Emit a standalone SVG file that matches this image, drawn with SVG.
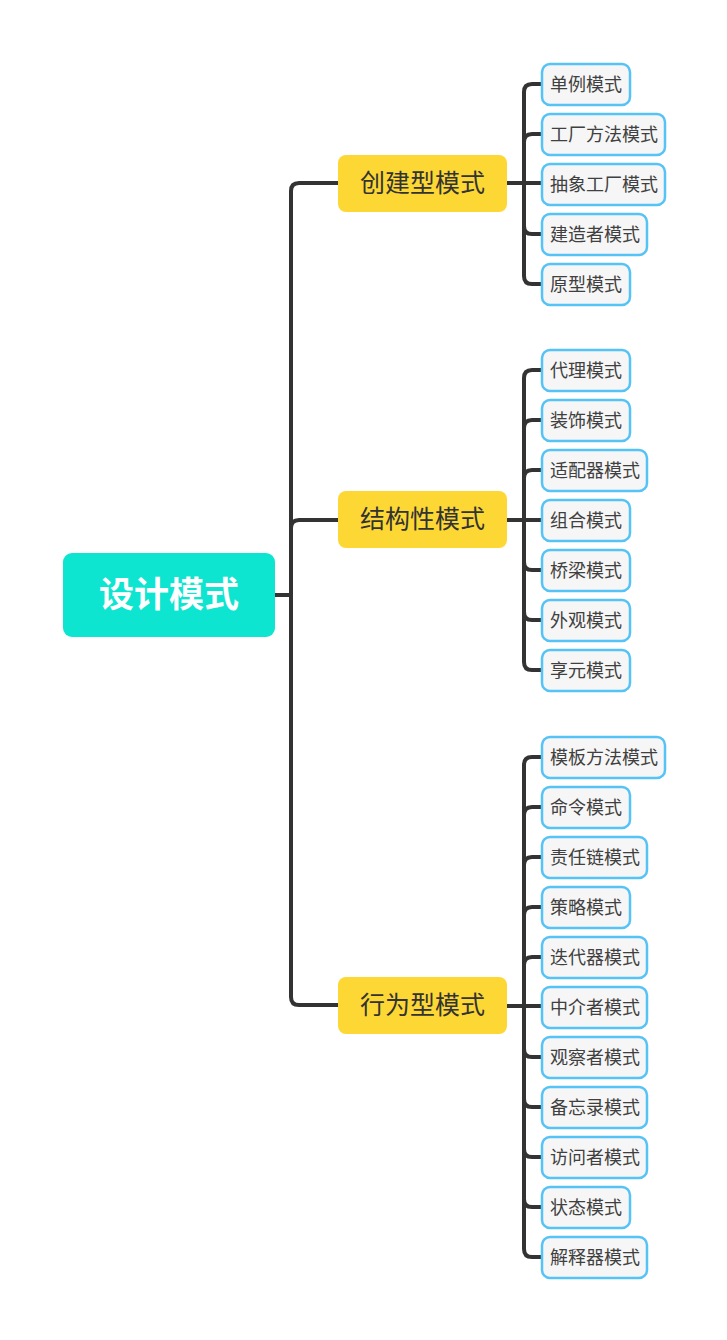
<svg xmlns="http://www.w3.org/2000/svg" width="727" height="1340" viewBox="0 0 727 1340">
<style>
.conn{fill:none;stroke:#333333;stroke-width:4;stroke-linecap:round;stroke-linejoin:round}
.root rect{fill:#0DE5D0}
.root text{fill:#ffffff;font-family:"Noto Sans CJK SC","Noto Sans",sans-serif;font-weight:bold;font-size:35px;text-anchor:middle}
.l1 rect{fill:#FDD835}
.l1 text{fill:#333333;font-family:"Noto Sans CJK SC","Noto Sans",sans-serif;font-size:25px;text-anchor:middle}
.l2 rect{fill:#F6F6F6;stroke:#55C3F5;stroke-width:2.5}
.l2 text{fill:#404040;font-family:"Noto Sans CJK SC","Noto Sans",sans-serif;font-size:18px}
</style>
<rect width="727" height="1340" fill="#ffffff"/>
<g id="connectors">
<path class="conn" d="M275 595 H291 V191 Q291 183 299 183 H338"/>
<path class="conn" d="M275 595 H291 V528 Q291 520 299 520 H338"/>
<path class="conn" d="M275 595 H291 V997 Q291 1005 299 1005 H338"/>
<path class="conn" d="M507 183 H524 V92 Q524 84 532 84 H541"/>
<path class="conn" d="M507 183 H524 V142 Q524 134 532 134 H541"/>
<path class="conn" d="M507 183 H541"/>
<path class="conn" d="M507 183 H524 V226 Q524 234 532 234 H541"/>
<path class="conn" d="M507 183 H524 V276 Q524 284 532 284 H541"/>
<path class="conn" d="M507 520 H524 V378 Q524 370 532 370 H541"/>
<path class="conn" d="M507 520 H524 V428 Q524 420 532 420 H541"/>
<path class="conn" d="M507 520 H524 V478 Q524 470 532 470 H541"/>
<path class="conn" d="M507 520 H541"/>
<path class="conn" d="M507 520 H524 V562 Q524 570 532 570 H541"/>
<path class="conn" d="M507 520 H524 V612 Q524 620 532 620 H541"/>
<path class="conn" d="M507 520 H524 V662 Q524 670 532 670 H541"/>
<path class="conn" d="M507 1006 H524 V765 Q524 757 532 757 H541"/>
<path class="conn" d="M507 1006 H524 V815 Q524 807 532 807 H541"/>
<path class="conn" d="M507 1006 H524 V865 Q524 857 532 857 H541"/>
<path class="conn" d="M507 1006 H524 V915 Q524 907 532 907 H541"/>
<path class="conn" d="M507 1006 H524 V965 Q524 957 532 957 H541"/>
<path class="conn" d="M507 1006 H541"/>
<path class="conn" d="M507 1006 H524 V1049 Q524 1057 532 1057 H541"/>
<path class="conn" d="M507 1006 H524 V1099 Q524 1107 532 1107 H541"/>
<path class="conn" d="M507 1006 H524 V1149 Q524 1157 532 1157 H541"/>
<path class="conn" d="M507 1006 H524 V1199 Q524 1207 532 1207 H541"/>
<path class="conn" d="M507 1006 H524 V1249 Q524 1257 532 1257 H541"/>
</g>
<g id="root" class="root"><rect x="63" y="553" width="212" height="84" rx="9"/><text x="169" y="607">设计模式</text></g>
<g id="creational" class="l1"><rect x="338" y="155" width="169" height="57" rx="8"/><text x="422.5" y="192">创建型模式</text></g>
<g id="structural" class="l1"><rect x="338" y="491" width="169" height="57" rx="8"/><text x="422.5" y="528">结构性模式</text></g>
<g id="behavioral" class="l1"><rect x="338" y="977" width="169" height="57" rx="8"/><text x="422.5" y="1014">行为型模式</text></g>
<g id="c1" class="l2"><rect x="542" y="64" width="88" height="41" rx="8"/><text x="550" y="90.5">单例模式</text></g>
<g id="c2" class="l2"><rect x="542" y="114" width="123" height="41" rx="8"/><text x="550" y="140.5">工厂方法模式</text></g>
<g id="c3" class="l2"><rect x="542" y="164" width="123" height="41" rx="8"/><text x="550" y="190.5">抽象工厂模式</text></g>
<g id="c4" class="l2"><rect x="542" y="214" width="105" height="41" rx="8"/><text x="550" y="240.5">建造者模式</text></g>
<g id="c5" class="l2"><rect x="542" y="264" width="88" height="41" rx="8"/><text x="550" y="290.5">原型模式</text></g>
<g id="s1" class="l2"><rect x="542" y="350" width="88" height="41" rx="8"/><text x="550" y="376.5">代理模式</text></g>
<g id="s2" class="l2"><rect x="542" y="400" width="88" height="41" rx="8"/><text x="550" y="426.5">装饰模式</text></g>
<g id="s3" class="l2"><rect x="542" y="450" width="105" height="41" rx="8"/><text x="550" y="476.5">适配器模式</text></g>
<g id="s4" class="l2"><rect x="542" y="500" width="88" height="41" rx="8"/><text x="550" y="526.5">组合模式</text></g>
<g id="s5" class="l2"><rect x="542" y="550" width="88" height="41" rx="8"/><text x="550" y="576.5">桥梁模式</text></g>
<g id="s6" class="l2"><rect x="542" y="600" width="88" height="41" rx="8"/><text x="550" y="626.5">外观模式</text></g>
<g id="s7" class="l2"><rect x="542" y="650" width="88" height="41" rx="8"/><text x="550" y="676.5">享元模式</text></g>
<g id="b1" class="l2"><rect x="542" y="737" width="123" height="41" rx="8"/><text x="550" y="763.5">模板方法模式</text></g>
<g id="b2" class="l2"><rect x="542" y="787" width="88" height="41" rx="8"/><text x="550" y="813.5">命令模式</text></g>
<g id="b3" class="l2"><rect x="542" y="837" width="105" height="41" rx="8"/><text x="550" y="863.5">责任链模式</text></g>
<g id="b4" class="l2"><rect x="542" y="887" width="88" height="41" rx="8"/><text x="550" y="913.5">策略模式</text></g>
<g id="b5" class="l2"><rect x="542" y="937" width="105" height="41" rx="8"/><text x="550" y="963.5">迭代器模式</text></g>
<g id="b6" class="l2"><rect x="542" y="987" width="105" height="41" rx="8"/><text x="550" y="1013.5">中介者模式</text></g>
<g id="b7" class="l2"><rect x="542" y="1037" width="105" height="41" rx="8"/><text x="550" y="1063.5">观察者模式</text></g>
<g id="b8" class="l2"><rect x="542" y="1087" width="105" height="41" rx="8"/><text x="550" y="1113.5">备忘录模式</text></g>
<g id="b9" class="l2"><rect x="542" y="1137" width="105" height="41" rx="8"/><text x="550" y="1163.5">访问者模式</text></g>
<g id="b10" class="l2"><rect x="542" y="1187" width="88" height="41" rx="8"/><text x="550" y="1213.5">状态模式</text></g>
<g id="b11" class="l2"><rect x="542" y="1237" width="105" height="41" rx="8"/><text x="550" y="1263.5">解释器模式</text></g>
</svg>
